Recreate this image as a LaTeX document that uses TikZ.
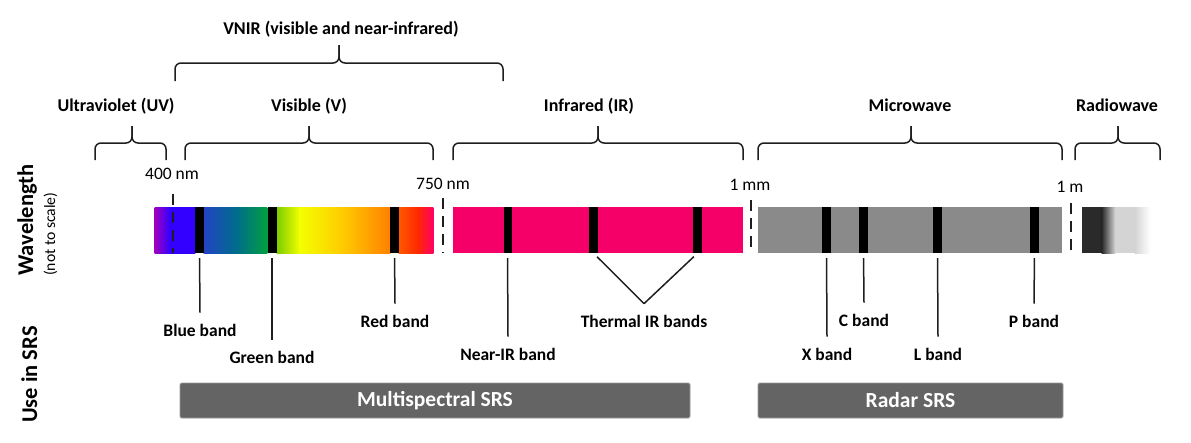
\documentclass[tikz,border=0pt]{standalone}
\usepackage{fontspec}
\setmainfont{Carlito}
\definecolor{irpink}{RGB}{245,0,104}
\definecolor{mwgray}{RGB}{138,138,138}
\definecolor{boxgray}{RGB}{100,100,100}
\definecolor{ink}{RGB}{30,30,30}
\definecolor{vPurple}{RGB}{160,0,192}
\definecolor{vViolet}{RGB}{51,0,255}
\definecolor{vBlue}{RGB}{34,68,196}
\definecolor{vTeal}{RGB}{0,108,140}
\definecolor{vGreen}{RGB}{0,160,64}
\definecolor{vLime}{RGB}{124,204,0}
\definecolor{vYellow}{RGB}{244,255,0}
\definecolor{vGold}{RGB}{255,200,0}
\definecolor{vOrange}{RGB}{255,128,0}
\definecolor{vRedOr}{RGB}{255,88,0}
\definecolor{vRed}{RGB}{255,40,0}
\definecolor{vPink}{RGB}{255,0,102}
\definecolor{rDark}{RGB}{42,42,42}
\definecolor{rLight}{RGB}{212,212,212}
\newcommand\mybrace[5]{%
  \draw[brk] (#1,#4+#5) -- (#1,#4) -- (#3,#4) -- (#3,#4-#5);
  \draw[brk] (#2,#4+#5) -- (#2,#4) -- (#3,#4) -- (#3,#4-#5);}
\newcommand\seg[4]{\shade[left color=#3,right color=#4] (#1-0.3,207) rectangle (#2+0.3,253);}
\begin{document}
\begin{tikzpicture}[x=1pt,y=-1pt,
  ttl/.style={font=\fontsize{18}{21}\selectfont\bfseries, inner sep=0, anchor=base},
  num/.style={font=\fontsize{17.5}{20}\selectfont, inner sep=0, anchor=base},
  bandlbl/.style={font=\fontsize{17.5}{20}\selectfont\bfseries, inner xsep=0, inner ysep=12.5, text height=11.3, text depth=0},
  brk/.style={line width=1.5pt, rounded corners=6pt, draw=ink},
  conn/.style={line width=1.5pt, draw=ink, shorten <=5pt},
  cut/.style={line width=2pt, draw=ink, dash pattern=on 11pt off 7pt},
  bandmark/.style={fill=black, inner sep=0, minimum height=46pt, minimum width=9pt},
  srsbox/.style={fill=boxgray, draw=black!40, line width=0.8pt, rounded corners=1.5pt, inner sep=0, minimum height=35pt, text=white, font=\fontsize{21.5}{24}\selectfont\bfseries},
  side/.style={font=\fontsize{22.5}{25}\selectfont\bfseries, rotate=90, inner sep=0, anchor=base west},
]
\useasboundingbox (0,0) rectangle (1191,442);

% ---- top labels and braces
\node[ttl] (vnir) at (341,34) {VNIR (visible and near-infrared)};
\mybrace{175}{503}{339}{63}{18}
\node[ttl] (uv) at (116,111) {Ultraviolet (UV)};
\node[ttl] (vis) at (309,111) {Visible (V)};
\node[ttl] (ir) at (589,111) {Infrared (IR)};
\node[ttl] (mw) at (910,111) {Microwave};
\node[ttl] (radio) at (1117,111) {Radiowave};
\mybrace{95}{166}{132}{143}{17}
\mybrace{185}{433}{309}{143}{17}
\mybrace{453}{743}{598}{143}{17}
\mybrace{758}{1062}{911}{143}{17}
\mybrace{1075}{1160}{1118}{143}{17}

% ---- wavelength labels
\node[num] (l400) at (172,179) {400 nm};
\node[num] (l750) at (443,189) {750 nm};
\node[num] (l1mm) at (750,190) {1 mm};
\node[num] (l1m) at (1070,192) {1 m};

% ---- visible bar
\seg{155}{170}{vPurple}{vViolet}
\seg{170}{195}{vViolet}{vViolet}
\seg{204}{236}{vBlue}{vTeal}
\seg{236}{267}{vTeal}{vGreen}
\seg{277}{300}{vLime}{vYellow}
\seg{300}{345}{vYellow}{vGold}
\seg{345}{390}{vGold}{vOrange}
\seg{399}{418}{vRedOr}{vRed}
\seg{418}{433}{vRed}{vPink}
% ---- infrared bar
\fill[irpink] (453,207) rectangle (743,253);
% ---- microwave bar
\fill[mwgray] (758,207) rectangle (1062,253);
% ---- radiowave bar
\fill[rDark] (1082,207) rectangle (1102.3,253);
\seg{1102}{1115}{rDark}{rLight}
\fill[rLight] (1114.7,207) rectangle (1135.3,253);
\seg{1135}{1150}{rLight}{white}

% ---- band marks
\node[bandmark] (bblue) at (199.5,230) {};
\node[bandmark] (bgreen) at (272,230) {};
\node[bandmark] (bred) at (394.5,230) {};
\node[bandmark, minimum width=8pt] (bnir) at (507.5,230) {};
\node[bandmark] (bth1) at (593.5,230) {};
\node[bandmark] (bth2) at (697.5,230) {};
\node[bandmark] (bx) at (826.5,230) {};
\node[bandmark] (bc) at (863.5,230) {};
\node[bandmark] (bl) at (937.5,230) {};
\node[bandmark] (bp) at (1034.5,230) {};

% ---- boundaries
\coordinate (d400a) at (173,194); \coordinate (d400b) at (173,253);
\coordinate (d750a) at (443,198); \coordinate (d750b) at (443,253);
\coordinate (d1mma) at (751,200); \coordinate (d1mmb) at (751,253);
\coordinate (d1ma) at (1071,203); \coordinate (d1mb) at (1071,251);
\draw[cut] (d400a) -- (d400b);
\draw[cut] (d750a) -- (d750b);
\draw[cut] (d1mma) -- (d1mmb);
\draw[cut] (d1ma) -- (d1mb);

% ---- band labels
\node[bandlbl] (tblue) at (200,331) {Blue band};
\node[bandlbl] (tgreen) at (272,358) {Green band};
\node[bandlbl] (tred) at (395,322) {Red band};
\node[bandlbl] (tnir) at (508,355) {Near-IR band};
\node[bandlbl] (tth) at (644,322) {Thermal IR bands};
\node[bandlbl] (tx) at (827,355) {X band};
\node[bandlbl] (tc) at (864,321) {C band};
\node[bandlbl] (tl) at (938,355) {L band};
\node[bandlbl] (tp) at (1034,322) {P band};

\draw[conn] (bblue.south) -- (tblue.north);
\draw[conn] (bgreen.south) -- (tgreen.north);
\draw[conn] (bred.south) -- (tred.north);
\draw[conn] (bnir.south) -- (tnir.north);
\draw[conn] (bth1.south) -- (tth.north);
\draw[conn] (bth2.south) -- (tth.north);
\draw[conn] (bx.south) -- (tx.north);
\draw[conn] (bc.south) -- (tc.north);
\draw[conn] (bl.south) -- (tl.north);
\draw[conn] (bp.south) -- (tp.north);

% ---- SRS boxes
\node[srsbox, minimum width=510pt] (ms) at (435,400.5) {Multispectral SRS};
\node[srsbox, minimum width=305pt] (radar) at (910.5,400.5) {Radar SRS};

% ---- side labels
\node[side] (wl) at (33,276) {Wavelength};
\node[side, font=\fontsize{15.7}{18}\selectfont] (nts) at (55,276) {(not to scale)};
\node[side] (use) at (37,423) {Use in SRS};
\end{tikzpicture}
\end{document}
